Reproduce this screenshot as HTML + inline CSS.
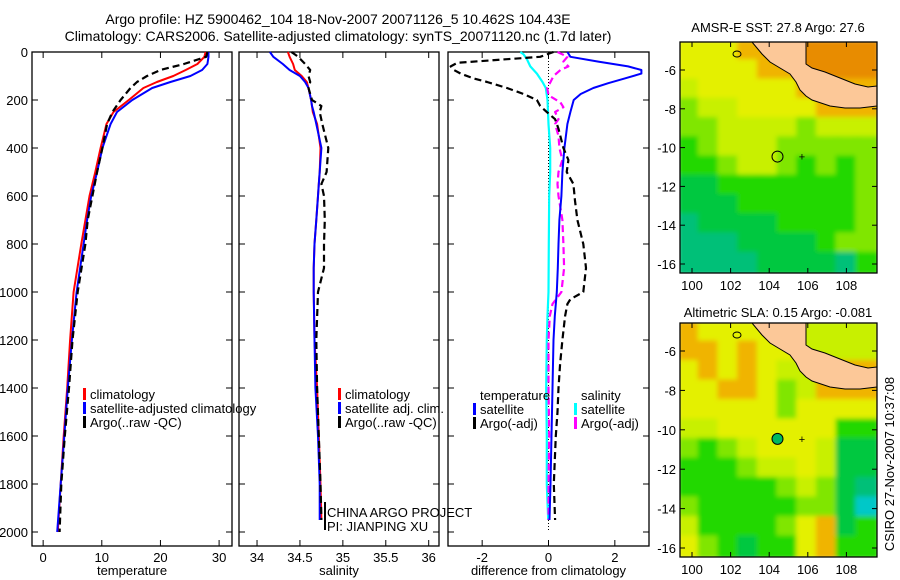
<!DOCTYPE html>
<html><head><meta charset="utf-8"><style>
body{margin:0;background:#fff}
svg{display:block;font-family:"Liberation Sans",sans-serif}
</style></head><body>
<svg id="c" width="900" height="580" viewBox="0 0 900 580" xmlns="http://www.w3.org/2000/svg">
<defs>
<clipPath id="m1c"><rect x="680" y="42" width="197" height="231"/></clipPath>
<clipPath id="m2c"><rect x="680" y="323" width="197" height="234"/></clipPath>
<filter id="bl"><feGaussianBlur stdDeviation="2.5"/></filter>
</defs>
<text x="338" y="24" font-size="14" text-anchor="middle">Argo profile: HZ 5900462_104 18-Nov-2007 20071126_5 10.462S 104.43E</text>
<text x="338" y="41" font-size="14" text-anchor="middle">Climatology: CARS2006. Satellite-adjusted climatology: synTS_20071120.nc (1.7d later)</text>
<g id="plots"></g>
<g id="maps"></g>
<text transform="translate(894,464) rotate(-90)" font-size="13" text-anchor="middle">CSIRO 27-Nov-2007 10:37:08</text>
</svg>
<script>
// ---- data ----
const tDepth=[0,20,50,75,100,125,150,200,250,300,400,500,600,700,800,1000,1200,1400,1600,1800,2000];
const tClim=[27.7,27.5,26.3,24.3,22.2,19.4,17.1,14.6,12.0,10.8,9.8,8.9,7.9,7.2,6.5,5.2,4.6,4.1,3.5,3.0,2.5];
const tSat=[28.2,28.2,28.0,27.1,25.1,21.7,18.6,15.2,12.6,11.5,10.1,9.2,8.2,7.5,6.9,5.7,4.9,4.2,3.6,3.0,2.4];
const tArgo=[28.0,27.8,24.0,20.0,17.7,16.0,14.9,13.2,11.8,10.9,10.1,9.2,8.4,7.6,7.2,5.9,5.0,4.4,3.7,3.1,2.8];
const sDepth=[0,20,50,75,100,125,150,200,225,250,300,400,500,550,600,700,800,900,1000,1200,1400,1600,1800,1950];
const sClim=[34.36,34.38,34.42,34.44,34.52,34.58,34.6,34.63,34.64,34.65,34.7,34.74,34.73,34.72,34.71,34.69,34.67,34.66,34.66,34.67,34.7,34.72,34.74,34.75];
const sSat=[34.15,34.19,34.3,34.38,34.5,34.56,34.6,34.63,34.64,34.66,34.69,34.75,34.73,34.72,34.71,34.69,34.67,34.66,34.66,34.67,34.68,34.71,34.73,34.73];
const sArgo=[34.4,34.48,34.56,34.62,34.6,34.62,34.6,34.64,34.75,34.73,34.76,34.83,34.81,34.75,34.78,34.79,34.78,34.78,34.71,34.69,34.7,34.72,34.74,34.75];
const dtDepth=[0,20,40,60,75,90,110,130,150,175,200,250,300,400,500,600,700,800,900,1000,1100,1200,1400,1600,1800,1950];
const dtSat=[0.57,0.66,1.5,2.4,2.8,2.8,2.3,1.8,1.35,0.97,0.76,0.66,0.57,0.48,0.42,0.39,0.33,0.3,0.28,0.25,0.19,0.15,0.12,0.09,0.06,0.03];
const daDepth=[0,20,30,45,60,75,90,110,125,150,175,200,225,250,280,320,400,450,500,550,620,700,800,900,1000,1030,1050,1100,1200,1300,1400,1500,1600,1700,1800,1950];
const dtArgo=[0.15,-0.25,-1.25,-2.75,-2.95,-2.85,-2.65,-2.26,-1.85,-1.25,-0.75,-0.35,-0.25,-0.05,0.2,0.3,0.45,0.6,0.55,0.75,0.8,0.87,1.05,1.13,1.05,0.66,0.57,0.5,0.42,0.35,0.3,0.27,0.22,0.19,0.16,0.2];
const dsDepth=[0,10,30,60,90,125,150,200,300,400,500,600,800,1000,1100,1200,1400,1600,1800,1950];
const dsSat=[-0.85,-0.75,-0.65,-0.55,-0.35,-0.18,-0.08,-0.03,0,0.05,0.05,0.02,0.01,0,-0.03,-0.05,-0.07,-0.05,-0.05,-0.01];
const dmDepth=[0,20,40,60,75,100,125,150,180,210,230,250,280,300,350,400,450,500,550,600,700,800,900,1000,1050,1100,1200,1400,1600,1800,1950];
const dsArgo=[0.27,0.57,0.45,0.6,0.36,0.15,0.06,-0.04,0,0.36,0.45,0.2,0.3,0.2,0.3,0.33,0.42,0.3,0.27,0.3,0.42,0.45,0.47,0.39,0.12,0.04,0,0,0.02,0,0];
const depthTicks=[0,200,400,600,800,1000,1200,1400,1600,1800,2000];
const tTicks=[0,10,20,30];
const sTicks=[34,34.5,35,35.5,36];
const dTicks=[-2,0,2];
const lonTicks=[100,102,104,106,108];
const latTicks=[-6,-8,-10,-12,-14,-16];
const argoLon=104.43, argoLat=-10.462;

const NS='http://www.w3.org/2000/svg';
function el(tag,attrs,parent,txt){const e=document.createElementNS(NS,tag);for(const k in attrs)e.setAttribute(k,attrs[k]);if(txt!==undefined)e.textContent=txt;parent.appendChild(e);return e;}
const P=document.getElementById('plots');
const Y0=52,Y1=546;
const yD=d=>Y0+d*0.24;

function panel(name,x0,x1,xmin,xmax,ticks,fmt,xlabel,showY){
  const g=el('g',{},P);
  
  
  const xs=v=>x0+(v-xmin)/(xmax-xmin)*(x1-x0);
  const fr=el('rect',{x:x0,y:Y0,width:x1-x0,height:Y1-Y0,fill:'none',stroke:'#000','stroke-width':1.3},g);
  
  
  depthTicks.forEach(d=>{const y=yD(d);
    el('line',{x1:x0,x2:x0+6,y1:y,y2:y,stroke:'#000'},g);el('line',{x1:x1,x2:x1-6,y1:y,y2:y,stroke:'#000'},g);
    if(showY){const t=el('text',{x:x0-4,y:y+5,'font-size':13,'text-anchor':'end'},g,String(d));
      
      }
  });
  ticks.forEach(v=>{const x=xs(v);
    el('line',{x1:x,x2:x,y1:Y1,y2:Y1-6,stroke:'#000'},g);el('line',{x1:x,x2:x,y1:Y0,y2:Y0+6,stroke:'#000'},g);
    const t=el('text',{x:x,y:Y1+16,'font-size':13,'text-anchor':'middle'},g,fmt(v));
    
    
  });
  const xl=el('text',{x:(x0+x1)/2,y:575,'font-size':13,'text-anchor':'middle'},g,xlabel);
  
  
  return {g,xs};
}
function line(p,depths,vals,color,dash,w,nm){
  const pts=depths.map((d,i)=>p.xs(vals[i]).toFixed(1)+','+yD(d).toFixed(1)).join(' ');
  const l=el('polyline',{points:pts,fill:'none',stroke:color,'stroke-width':w,'stroke-dasharray':dash||'none','stroke-linejoin':'round'},p.g);
  
  
}
function legend(g,x,y,items){
  items.forEach((it,i)=>{const yy=y+i*14;
    if(it[1])el('rect',{x:x,y:yy-9,width:3,height:12,fill:it[1]},g);
    const t=el('text',{x:x+7,y:yy+2,'font-size':13},g,it[0]);
    
    
  });
}
// panel 1
const p1=panel('temperature',32,232,-1.9,32.2,tTicks,v=>String(v),'temperature',true);
line(p1,tDepth,tClim,'#f00','',2,'temperature-climatology-line');
line(p1,tDepth,tSat,'#00f','',2,'temperature-satellite-line');
line(p1,tDepth,tArgo,'#000','7,4',2.2,'temperature-argo-line');
legend(p1.g,83,397,[['climatology','#f00'],['satellite-adjusted climatology','#00f'],['Argo(..raw -QC)','#000']]);
// panel 2
const p2=panel('salinity',239,439,33.79,36.12,sTicks,v=>String(v),'salinity',false);
line(p2,sDepth,sClim,'#f00','',2,'salinity-climatology-line');
line(p2,sDepth,sSat,'#00f','',2,'salinity-satellite-line');
line(p2,sDepth,sArgo,'#000','7,4',2.2,'salinity-argo-line');
legend(p2.g,338,397,[['climatology','#f00'],['satellite adj. clim.','#00f'],['Argo(..raw -QC)','#000']]);
el('rect',{x:324,y:502,width:2,height:28,fill:'#000'},p2.g);
const ca=el('text',{x:327,y:517,'font-size':13},p2.g,'CHINA ARGO PROJECT');


const pi=el('text',{x:327,y:531,'font-size':13},p2.g,'PI: JIANPING XU');


// panel 3
const p3=panel('difference',448,649,-3.03,3.03,dTicks,v=>String(v),'difference from climatology',false);
el('line',{x1:p3.xs(0),x2:p3.xs(0),y1:Y0,y2:yD(2000),stroke:'#000','stroke-dasharray':'1,2'},p3.g);
line(p3,dsDepth,dsSat,'#0ff','',2.2,'salinity-satellite-diff-line');
line(p3,dmDepth,dsArgo,'#f0f','7,4',2.2,'salinity-argo-diff-line');
line(p3,dtDepth,dtSat,'#00f','',2,'temperature-satellite-diff-line');
line(p3,daDepth,dtArgo,'#000','7,4',2.2,'temperature-argo-diff-line');
legend(p3.g,473,398,[['temperature',null],['satellite','#00f'],['Argo(-adj)','#000']]);
legend(p3.g,574,398,[['salinity',null],['satellite','#0ff'],['Argo(-adj)','#f0f']]);

// ---- maps ----
const M=document.getElementById('maps');
const C={Y:'#e4f000',V:'#c8f000',L:'#80e600',G:'#22d800',H:'#00c840',T:'#00c078',C:'#00c8c8',O:'#f0b400',R:'#e88c00',K:'#d86000'};
const grid1=['YYYOOORRRR','YYYYOORRRR','VYYYYYOOOO','LVVYYYYOOO','LLVVVVLVVV','GLVVVLLLLL','GGLVVLGLGL','HHGGGGGGGL','HHHGGGGGGL','THHHHGGGGL','TTTHHHHGLL','TTTTHHHHTG'];
const grid2=['OYYYYYVVVV','OOYOYYVVVV','YOYOYVVOOO','YYOOYLVOOO','YYYYYLYYYY','VVYYYYYYGG','LGLVYYYVHH','GGGLVVYVHH','GGGGGLVLHT','LGGGGGLLHC','VGGGGLYOHG','YLGHGGYOGG'];
function map(name,top,bot,gridRows,title,ty,landPts){
  const g=el('g',{},M);
  
  
  const lx=v=>692+(v-100)*19.3;
  const la=v=>(top+28)+(-6-v)*((bot-top-37)/10);
  const cg=el('g',{'clip-path':'url(#'+(top<100?'m1c':'m2c')+')'},g);
  const ig=el('g',{filter:'url(#bl)'},cg);
  const cw=197/10,ch=(bot-top)/12;
  gridRows.forEach((r,i)=>{for(let j=0;j<10;j++)el('rect',{x:680+j*cw-2,y:top+i*ch-2,width:cw+4,height:ch+4,fill:C[r[j]]},ig);});
  const land=el('polygon',{points:landPts.map(p=>p[0]+','+(top+p[1])).join(' '),fill:'#fcc898',stroke:'#000','stroke-width':1},cg);
  
  
  el('ellipse',{cx:737,cy:top+12,rx:4,ry:3,fill:'none',stroke:'#000'},cg);
  el('rect',{x:680,y:top,width:197,height:bot-top,fill:'none',stroke:'#000','stroke-width':1.3},g);
  lonTicks.forEach(v=>{const x=lx(v);el('line',{x1:x,x2:x,y1:bot,y2:bot-5,stroke:'#000'},g);el('line',{x1:x,x2:x,y1:top,y2:top+5,stroke:'#000'},g);
    const t=el('text',{x:x,y:bot+17,'font-size':13,'text-anchor':'middle'},g,String(v));
    
    });
  latTicks.forEach(v=>{const y=la(v);el('line',{x1:680,x2:685,y1:y,y2:y,stroke:'#000'},g);el('line',{x1:877,x2:872,y1:y,y2:y,stroke:'#000'},g);
    const t=el('text',{x:676,y:y+5,'font-size':13,'text-anchor':'end'},g,String(v));
    
    });
  const mk=el('circle',{cx:lx(argoLon),cy:la(argoLat),r:5.5,fill:top<100?'none':'#00b860',stroke:'#000','stroke-width':1},g);
  
  
  el('text',{x:lx(105.7),y:la(argoLat)+4,'font-size':11,'text-anchor':'middle'},g,'+');
  const tt=el('text',{x:778,y:ty,'font-size':13,'text-anchor':'middle'},g,title);
  
  
}
const landA=[[752,0],[762,12],[770,20],[780,26],[790,32],[796,40],[800,48],[806,54],[812,58],[818,60],[830,64],[845,66],[860,66],[877,64],[877,44],[868,45],[855,42],[840,36],[825,30],[812,26],[806,22],[806,0]];
map('sst-map',42,273,grid1,'AMSR-E SST: 27.8 Argo: 27.6',32,landA);
map('sla-map',323,557,grid2,'Altimetric SLA: 0.15 Argo: -0.081',317,landA);
</script>
</body></html>
